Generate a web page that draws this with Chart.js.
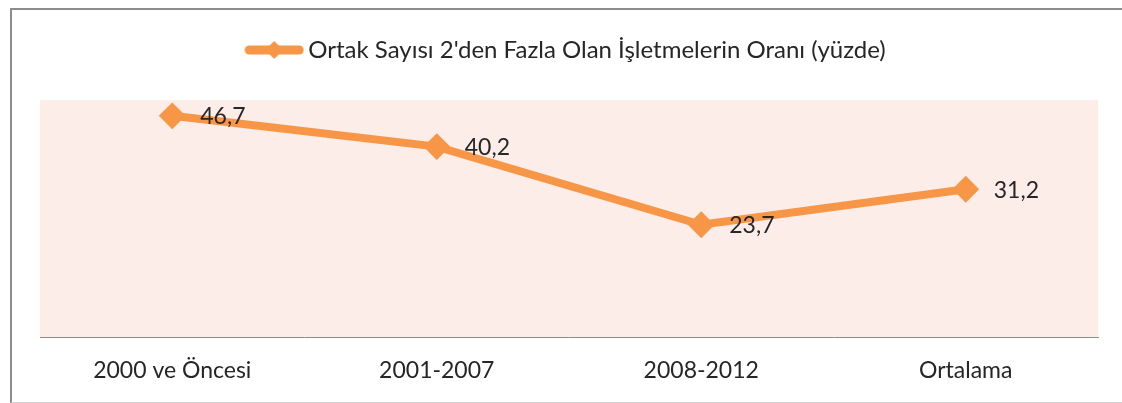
<!DOCTYPE html>
<html>
<head>
<meta charset="utf-8">
<script src="https://cdn.jsdelivr.net/npm/chart.js@4.4.1/dist/chart.umd.min.js"></script>
<style>
  html, body { margin: 0; padding: 0; background: #fff; overflow: hidden; }
  .frame {
    position: absolute; left: 10px; top: 8px; width: 1200px; height: 392px;
    border-left: 2px solid #8c8c8c; border-top: 2px solid #8c8c8c; border-bottom: 1px solid #d2d2d2;
  }
  .wrap { position: absolute; left: 0; top: 0; width: 1122px; height: 403px; }
</style>
</head>
<body>
<div class="frame"></div>
<div class="wrap"><canvas id="chart"></canvas></div>
<script>
// Excel'den alınmış çizgi grafiği: dönem bazında oran
const categories = ["2000 ve Öncesi", "2001-2007", "2008-2012", "Ortalama"]
const seriesName = "Ortak Sayısı 2'den Fazla Olan İşletmelerin Oranı (yüzde)"
const values = [46.7, 40.2, 23.7, 31.2]

const ORANGE = "#f79646"
const PLOT_BG = "#fcede8"
const INK = "#262626"
const AXIS = "#8c8c8c"
const FONT = "Lato"

// lejant için çizgi + elmas işaret
function legendMarker() {
  const c = document.createElement("canvas")
  c.width = 60
  c.height = 18
  const g = c.getContext("2d")
  g.strokeStyle = ORANGE
  g.lineWidth = 9
  g.lineCap = "round"
  g.beginPath()
  g.moveTo(5, 9)
  g.lineTo(55, 9)
  g.stroke()
  g.fillStyle = ORANGE
  g.beginPath()
  g.moveTo(30, 0)
  g.lineTo(39, 9)
  g.lineTo(30, 18)
  g.lineTo(21, 9)
  g.closePath()
  g.fill()
  return c
}

const plotBackground = {
  id: "plotBackground",
  beforeDraw(chart) {
    const { ctx, chartArea: a } = chart
    ctx.save()
    ctx.fillStyle = PLOT_BG
    ctx.fillRect(a.left, a.top, a.right - a.left, a.bottom - a.top)
    ctx.restore()
  },
}

const valueLabels = {
  id: "valueLabels",
  afterDatasetsDraw(chart) {
    const { ctx } = chart
    const meta = chart.getDatasetMeta(0)
    ctx.save()
    ctx.fillStyle = INK
    ctx.font = `23px ${FONT}`
    ctx.textAlign = "left"
    ctx.textBaseline = "middle"
    meta.data.forEach((pt, i) => {
      ctx.fillText(values[i].toFixed(1).replace(".", ","), pt.x + 28, pt.y + 1)
    })
    ctx.restore()
  },
}

const marker = legendMarker()

new Chart(document.getElementById("chart"), {
  type: "line",
  data: {
    labels: categories,
    datasets: [
      {
        label: seriesName,
        data: values,
        borderColor: ORANGE,
        backgroundColor: ORANGE,
        borderWidth: 8,
        pointStyle: "rectRot",
        pointRadius: 12,
        pointBorderWidth: 2,
        pointBackgroundColor: ORANGE,
        pointBorderColor: ORANGE,
        tension: 0,
      },
    ],
  },
  options: {
    responsive: true,
    maintainAspectRatio: false,
    animation: false,
    layout: { padding: { left: 40, right: 24, top: -2, bottom: 0 } },
    plugins: {
      tooltip: { enabled: false },
      legend: {
        position: "top",
        labels: {
          usePointStyle: true,
          pointStyleWidth: 44,
          padding: 40,
          color: INK,
          font: { family: FONT, size: 24 },
          generateLabels: (chart) => [
            { text: seriesName, pointStyle: marker, fontColor: INK, lineWidth: 0, datasetIndex: 0 },
          ],
        },
      },
      // lejant ile çizim alanı arasındaki boşluk
      subtitle: { display: true, text: "", weight: 500, font: { size: 1 }, padding: { top: 0, bottom: 27 } },
    },
    scales: {
      x: {
        offset: true,
        grid: { display: false, drawTicks: false },
        border: { display: true, color: AXIS, width: 1 },
        ticks: { color: INK, padding: 20, font: { family: FONT, size: 23 } },
        afterFit: (scale) => { scale.height = 66 },
      },
      y: { display: false, min: 0, max: 50 },
    },
  },
  plugins: [plotBackground, valueLabels],
})
</script>
</body>
</html>
